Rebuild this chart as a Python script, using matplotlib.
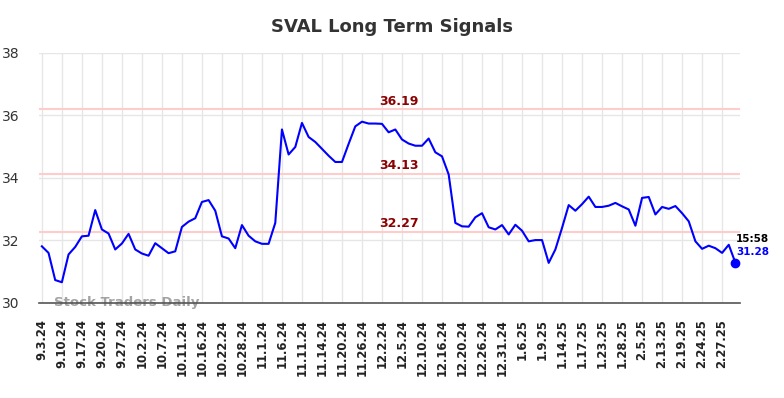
import matplotlib
matplotlib.use("Agg")
import matplotlib.pyplot as plt

# closing prices, one per session
prices = [
    31.81, 31.60, 30.73, 30.66, 31.55, 31.79, 32.13, 32.15, 32.97, 32.35,
    32.22, 31.71, 31.90, 32.21, 31.71, 31.58, 31.51, 31.91, 31.75, 31.59,
    31.65, 32.43, 32.60, 32.71, 33.23, 33.29, 32.95, 32.13, 32.06, 31.75,
    32.49, 32.15, 31.97, 31.89, 31.89, 32.56, 35.55, 34.75, 34.99, 35.76,
    35.31, 35.15, 34.93, 34.71, 34.51, 34.51, 35.09, 35.65, 35.80, 35.74,
    35.74, 35.73, 35.46, 35.55, 35.23, 35.10, 35.03, 35.03, 35.26, 34.82,
    34.69, 34.11, 32.56, 32.45, 32.44, 32.74, 32.87, 32.42, 32.35, 32.49,
    32.19, 32.50, 32.31, 31.97, 32.01, 32.01, 31.28, 31.71, 32.40, 33.13,
    32.95, 33.16, 33.40, 33.07, 33.07, 33.11, 33.20, 33.09, 32.99, 32.47,
    33.36, 33.39, 32.83, 33.07, 33.01, 33.10, 32.87, 32.61, 31.97, 31.73,
    31.83, 31.75, 31.60, 31.86, 31.28,
]

tick_labels = [
    "9.3.24", "9.10.24", "9.17.24", "9.20.24", "9.27.24", "10.2.24", "10.7.24",
    "10.11.24", "10.16.24", "10.22.24", "10.28.24", "11.1.24", "11.6.24",
    "11.11.24", "11.14.24", "11.20.24", "11.26.24", "12.2.24", "12.5.24",
    "12.10.24", "12.16.24", "12.20.24", "12.26.24", "12.31.24", "1.6.25",
    "1.9.25", "1.14.25", "1.17.25", "1.23.25", "1.28.25", "2.5.25", "2.13.25",
    "2.19.25", "2.24.25", "2.27.25",
]

signal_levels = [36.19, 34.13, 32.27]
last_time = "15:58"

x = list(range(len(prices)))
tick_pos = x[::3]

fig = plt.figure(figsize=(7.84, 3.98), dpi=100)
ax = fig.add_axes([0.050, 0.239, 0.894, 0.628])

ax.plot(x, prices, color="#0000ff", lw=1.5, zorder=3)
ax.plot(x[-1], prices[-1], "o", color="#0000ff", ms=6, zorder=4)

for lvl in signal_levels:
    ax.axhline(lvl, color="#ffcccc", lw=1.5, zorder=2)
    ax.text(53.6, lvl + 0.06, f"{lvl:.2f}", color="#8b0000", fontsize=9,
            fontweight="bold", ha="center", va="bottom", zorder=5)

ax.text(x[-1] + 0.1, prices[-1] + 0.77, last_time, color="black", fontsize=7.5,
        fontweight="bold", ha="left", va="center")
ax.text(x[-1] + 0.1, prices[-1] + 0.36, f"{prices[-1]:.2f}", color="#0000ff",
        fontsize=7.5, fontweight="bold", ha="left", va="center")

ax.text(1.8, 30.0, "Stock Traders Daily", color="#999999", fontsize=9.5,
        fontweight="bold", ha="left", va="center", alpha=0.9, zorder=1)

ax.set_xlim(-0.4, 104.7)
ax.set_ylim(30, 38)
ax.set_yticks([30, 32, 34, 36, 38])
ax.set_xticks(tick_pos)
ax.set_xticklabels(tick_labels, rotation=90, fontsize=8.4, fontweight="bold",
                   color="#222222")
ax.tick_params(axis="y", labelsize=10, colors="#333333", length=0, pad=14)
ax.tick_params(axis="x", length=0, pad=12)

ax.grid(True, color="#e6e6e6", lw=1)
ax.set_axisbelow(True)
for side in ["left", "right", "top"]:
    ax.spines[side].set_visible(False)
ax.spines["bottom"].set_color("#555555")
ax.spines["bottom"].set_linewidth(1.2)

fig.suptitle("SVAL Long Term Signals", x=0.5, y=0.955, fontsize=13,
             fontweight="bold", color="#333333")

fig.savefig("out.png", dpi=100)
